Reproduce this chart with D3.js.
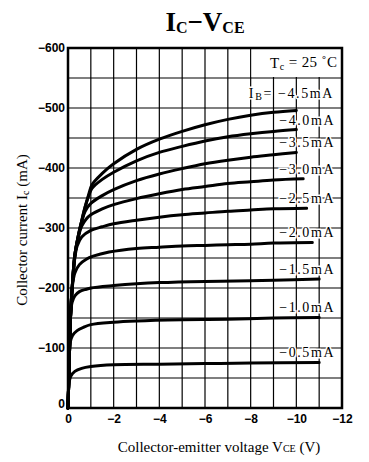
<!DOCTYPE html>
<html>
<head>
<meta charset="utf-8">
<script src="https://cdn.jsdelivr.net/npm/d3@7"></script>
<style>
  html, body { margin: 0; padding: 0; background: #fff; }
  svg { display: block; }
  .tick text { font-family: "Liberation Sans", Arial, sans-serif; font-weight: bold; font-size: 12px; fill: #000; }
  .serif { font-family: "Liberation Serif", "Times New Roman", serif; fill: #000; }
</style>
</head>
<body>
<div id="chart"></div>
<script>
// axis ticks (V, mA)
const vTicks = [0, -2, -4, -6, -8, -10, -12];
const iTicks = [0, -100, -200, -300, -400, -500, -600];

// base current labels, top to bottom
const ibLabels = ["−4.0mA", "−3.5mA", "−3.0mA", "−2.5mA", "−2.0mA", "−1.5mA", "−1.0mA", "−0.5mA"];

// curves: [Vce (V), Ic (mA)]
const ib45 = [[0,0],[-0.03,-40],[-0.07,-100],[-0.12,-160],[-0.2,-210],[-0.3,-255],[-0.45,-287],[-0.6,-312],[-0.75,-335],[-0.9,-355],[-1.05,-372],[-1.5,-391],[-2,-407],[-3,-431],[-4,-448],[-5,-461],[-6,-472],[-7,-481],[-8,-488],[-9,-493],[-10,-496]];
const ib40 = [[0,0],[-0.03,-40],[-0.07,-100],[-0.12,-160],[-0.2,-210],[-0.3,-255],[-0.45,-287],[-0.6,-312],[-0.75,-335],[-0.9,-353],[-1.05,-366],[-1.5,-381],[-2,-393],[-3,-412],[-4,-426],[-5,-436],[-6,-445],[-7,-452],[-8,-457],[-9,-461],[-10,-464]];
const ib35 = [[0,0],[-0.03,-40],[-0.07,-100],[-0.12,-160],[-0.2,-210],[-0.3,-255],[-0.45,-286],[-0.6,-310],[-0.75,-328],[-1,-341],[-1.5,-354],[-2,-364],[-3,-379],[-4,-390],[-5,-399],[-6,-407],[-7,-413],[-8,-418],[-9,-422],[-10,-426]];
const ib30 = [[0,0],[-0.03,-40],[-0.07,-100],[-0.12,-160],[-0.2,-210],[-0.3,-255],[-0.45,-284],[-0.6,-303],[-0.8,-315],[-1,-322],[-1.5,-332],[-2,-339],[-3,-349],[-4,-357],[-5,-364],[-6,-369],[-7,-374],[-8,-377],[-9,-380],[-10.3,-382]];
const ib25 = [[0,0],[-0.03,-40],[-0.07,-100],[-0.12,-160],[-0.2,-210],[-0.3,-250],[-0.4,-270],[-0.6,-285],[-1,-296],[-1.5,-302],[-2,-307],[-3,-313],[-4,-318],[-5,-322],[-6,-325],[-7,-328],[-8,-330],[-9,-332],[-10.45,-333]];
const ib20 = [[0,0],[-0.03,-40],[-0.07,-100],[-0.12,-160],[-0.2,-205],[-0.3,-225],[-0.5,-239],[-0.8,-248],[-1.1,-253],[-1.8,-260],[-3,-266],[-4,-268],[-5,-270],[-6,-271],[-7,-272],[-8,-273],[-9,-275],[-10.7,-276]];
const ib15 = [[0,0],[-0.03,-40],[-0.07,-100],[-0.12,-158],[-0.18,-176],[-0.3,-187],[-0.5,-194],[-0.8,-198],[-1,-200],[-2,-204],[-3,-207],[-4,-209],[-6,-211],[-8,-212],[-9,-213],[-11,-215]];
const ib10 = [[0,0],[-0.03,-40],[-0.07,-98],[-0.1,-110],[-0.2,-121],[-0.4,-129],[-0.7,-135],[-1,-139],[-2,-143],[-3,-145],[-5,-147],[-7,-148],[-9,-150],[-11,-151]];
const ib05 = [[0,0],[-0.02,-30],[-0.05,-43],[-0.12,-53],[-0.3,-61],[-0.6,-66],[-1,-69],[-2,-72],[-4,-73],[-6,-74],[-8,-75],[-11,-76]];

const W = 369, H = 462;
const m = { top: 48, right: 27, bottom: 54, left: 68 };
const svg = d3.select("#chart").append("svg").attr("width", W).attr("height", H);

const x = d3.scaleLinear().domain([0, -12]).range([m.left, W - m.right]);
const y = d3.scaleLinear().domain([0, -600]).range([H - m.bottom, m.top]);

// grid: 1 V and 50 mA
svg.append("g").selectAll("line").data(d3.range(0, -12.01, -1)).join("line")
  .attr("x1", d => x(d)).attr("x2", d => x(d)).attr("y1", y(0)).attr("y2", y(-600))
  .attr("stroke", "#000").attr("stroke-width", 1.2);
svg.append("g").selectAll("line").data(d3.range(0, -600.1, -50)).join("line")
  .attr("x1", x(0)).attr("x2", x(-12)).attr("y1", d => y(d)).attr("y2", d => y(d))
  .attr("stroke", "#000").attr("stroke-width", 1.2);

// Tc box blanks the top-right cells
svg.append("rect")
  .attr("x", x(-8) + 1).attr("y", y(-600)).attr("width", x(-12) - x(-8) - 1).attr("height", y(-550) - y(-600) - 1)
  .attr("fill", "#fff");

// frame
svg.append("rect")
  .attr("x", x(0)).attr("y", y(-600)).attr("width", x(-12) - x(0)).attr("height", y(0) - y(-600))
  .attr("fill", "none").attr("stroke", "#000").attr("stroke-width", 2.5);

// curves
const curves = [ib45, ib40, ib35, ib30, ib25, ib20, ib15, ib10, ib05];
const line = d3.line().x(d => x(d[0])).y(d => y(d[1])).curve(d3.curveCatmullRom.alpha(0.5));
svg.append("g").selectAll("path").data(curves).join("path")
  .attr("d", line)
  .attr("fill", "none").attr("stroke", "#000").attr("stroke-width", 3).attr("stroke-linecap", "round");

// axes
const fmt = d3.format("");
const xAxis = svg.append("g").attr("transform", `translate(0,${y(0)})`)
  .call(d3.axisBottom(x).tickValues(vTicks).tickSize(0).tickPadding(6).tickFormat(fmt));
xAxis.select(".domain").remove();
const yAxis = svg.append("g").attr("transform", `translate(${x(0) - 1},0)`)
  .call(d3.axisLeft(y).tickValues(iTicks).tickSize(0).tickPadding(2).tickFormat(fmt));
yAxis.select(".domain").remove();
yAxis.selectAll(".tick text").filter(d => d === 0).attr("dy", "-0.05em");

// curve labels, above the end of each curve
const lab = svg.append("g").attr("class", "serif").attr("font-size", 14).attr("letter-spacing", 1.6)
  .attr("text-anchor", "end");
lab.selectAll("text").data(ibLabels).join("text")
  .attr("x", x(-11.7))
  .attr("y", (d, i) => {
    const c = curves[i + 1];
    return y(c[c.length - 1][1]) - 10;
  })
  .attr("dy", "0.35em")
  .attr("stroke", "#fff").attr("stroke-width", 3).attr("paint-order", "stroke")
  .text(d => d);

// I_B = -4.5mA
const ibT = svg.append("text").attr("class", "serif").attr("font-size", 14).attr("letter-spacing", 1.6)
  .attr("text-anchor", "end").attr("x", x(-11.65)).attr("y", y(ib45[ib45.length - 1][1]) - 17).attr("dy", "0.35em")
  .attr("stroke", "#fff").attr("stroke-width", 3).attr("paint-order", "stroke");
ibT.append("tspan").text("I");
ibT.append("tspan").attr("font-size", 10).attr("dy", "0.2em").text("B");
ibT.append("tspan").attr("dy", "-0.2em").text("= −4.5mA");

// Tc = 25°C
const tc = svg.append("text").attr("class", "serif").attr("font-size", 15).attr("letter-spacing", 0.4)
  .attr("text-anchor", "end").attr("x", x(-11.8)).attr("y", (y(-600) + y(-550)) / 2).attr("dy", "0.35em");
tc.append("tspan").text("T");
tc.append("tspan").attr("font-size", 10).attr("dy", "0.2em").text("c");
tc.append("tspan").attr("dy", "-0.2em").text(" = 25 ˚C");

// title
const title = svg.append("text").attr("class", "serif").attr("font-weight", "bold").attr("font-size", 27)
  .attr("text-anchor", "middle").attr("x", 205).attr("y", 31);
title.append("tspan").text("I");
title.append("tspan").attr("font-size", 16).attr("dy", 2).text("C");
title.append("tspan").attr("dy", -2).text("−V");
title.append("tspan").attr("font-size", 16).attr("dy", 2).text("CE");

// axis titles
const yl = svg.append("text").attr("class", "serif").attr("font-size", 15).attr("text-anchor", "middle")
  .attr("transform", "translate(27,230) rotate(-90)");
yl.append("tspan").text("Collector current I");
yl.append("tspan").attr("font-size", 10).attr("dy", 2).text("c");
yl.append("tspan").attr("dy", -2).text(" (mA)");

const xl = svg.append("text").attr("class", "serif").attr("font-size", 15).attr("text-anchor", "middle")
  .attr("x", 219).attr("y", 452);
xl.append("tspan").text("Collector-emitter voltage V");
xl.append("tspan").attr("font-size", 10).text("CE");
xl.append("tspan").text(" (V)");
</script>
</body>
</html>
